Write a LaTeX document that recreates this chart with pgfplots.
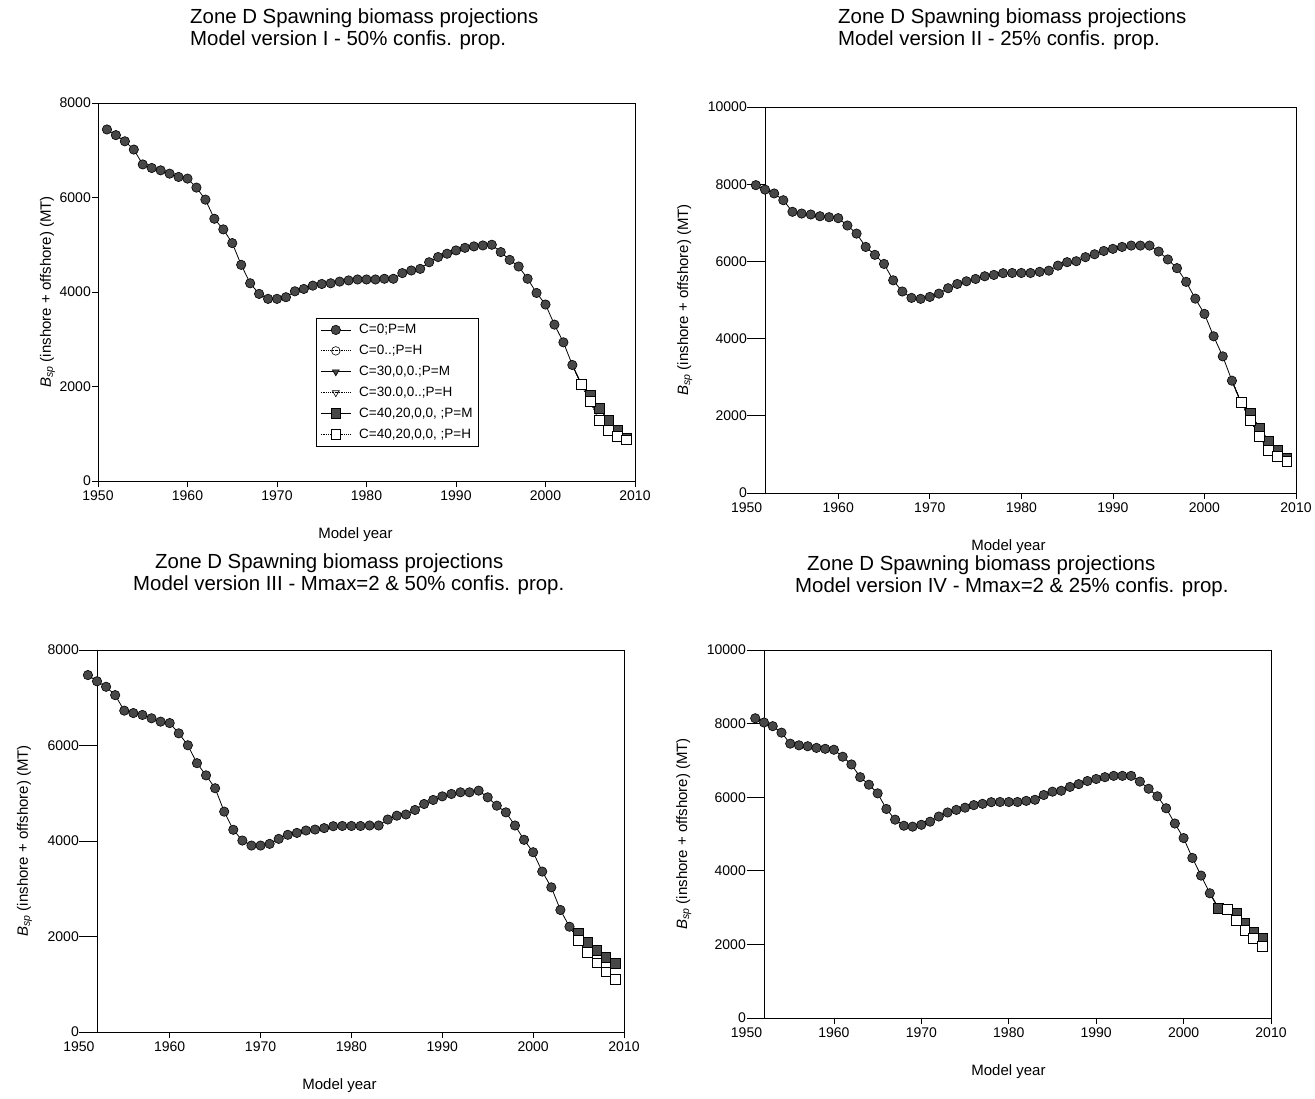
\documentclass[border=0pt]{standalone}
\usepackage{fontspec}
\setmainfont{Liberation Sans}
\usepackage{pgfplots}
\pgfplotsset{compat=1.18}
\usepackage{pgfplotstable}

% ---------------- Panel I ----------------
\pgfplotstableread{
year val
1951 7440
1952 7320
1953 7190
1954 7015
1955 6700
1956 6625
1957 6575
1958 6505
1959 6435
1960 6400
1961 6210
1962 5955
1963 5550
1964 5325
1965 5035
1966 4575
1967 4185
1968 3960
1969 3855
1970 3855
1971 3890
1972 4015
1973 4065
1974 4135
1975 4170
1976 4185
1977 4220
1978 4245
1979 4265
1980 4265
1981 4265
1982 4280
1983 4280
1984 4400
1985 4455
1986 4490
1987 4630
1988 4740
1989 4810
1990 4880
1991 4935
1992 4965
1993 4985
1994 5000
1995 4845
1996 4680
1997 4540
1998 4280
1999 3980
2000 3735
2001 3310
2002 2935
2003 2455
}\histA
\pgfplotstableread{
year val
2003 2455
2004 2046
2005 1820
2006 1540
2007 1290
2008 1080
2009 900
}\projAM
\pgfplotstableread{
year val
2003 2455
2004 2046
2005 1680
2006 1290
2007 1080
2008 950
2009 870
}\projAH

% ---------------- Panel II ----------------
\pgfplotstableread{
year val
1951 7975
1952 7860
1953 7760
1954 7585
1955 7285
1956 7240
1957 7215
1958 7170
1959 7145
1960 7120
1961 6930
1962 6720
1963 6375
1964 6170
1965 5935
1966 5510
1967 5220
1968 5055
1969 5030
1970 5080
1971 5165
1972 5305
1973 5415
1974 5485
1975 5545
1976 5615
1977 5650
1978 5695
1979 5700
1980 5700
1981 5700
1982 5730
1983 5760
1984 5890
1985 5980
1986 6005
1987 6110
1988 6185
1989 6270
1990 6325
1991 6375
1992 6410
1993 6410
1994 6410
1995 6255
1996 6050
1997 5825
1998 5470
1999 5035
2000 4640
2001 4060
2002 3540
2003 2910
}\histB
\pgfplotstableread{
year val
2003 2910
2004 2340
2005 2065
2006 1690
2007 1350
2008 1115
2009 900
}\projBM
\pgfplotstableread{
year val
2003 2910
2004 2340
2005 1890
2006 1460
2007 1115
2008 960
2009 830
}\projBH

% ---------------- Panel III ----------------
\pgfplotstableread{
year val
1951 7475
1952 7345
1953 7230
1954 7055
1955 6730
1956 6680
1957 6640
1958 6570
1959 6500
1960 6470
1961 6255
1962 6005
1963 5630
1964 5375
1965 5105
1966 4615
1967 4235
1968 4010
1969 3905
1970 3905
1971 3940
1972 4045
1973 4130
1974 4170
1975 4220
1976 4240
1977 4270
1978 4310
1979 4315
1980 4315
1981 4315
1982 4325
1983 4325
1984 4450
1985 4530
1986 4555
1987 4650
1988 4775
1989 4860
1990 4935
1991 4985
1992 5020
1993 5020
1994 5055
1995 4915
1996 4740
1997 4600
1998 4325
1999 4025
2000 3765
2001 3360
2002 3030
2003 2555
2004 2205
}\histC
\pgfplotstableread{
year val
2004 2205
2005 2070
2006 1880
2007 1710
2008 1570
2009 1438
}\projCM
\pgfplotstableread{
year val
2004 2205
2005 1925
2006 1670
2007 1450
2008 1260
2009 1110
}\projCH

% ---------------- Panel IV ----------------
\pgfplotstableread{
year val
1951 8145
1952 8030
1953 7930
1954 7755
1955 7455
1956 7410
1957 7385
1958 7340
1959 7315
1960 7290
1961 7100
1962 6890
1963 6545
1964 6340
1965 6105
1966 5680
1967 5390
1968 5225
1969 5200
1970 5250
1971 5335
1972 5475
1973 5585
1974 5655
1975 5715
1976 5785
1977 5820
1978 5865
1979 5870
1980 5870
1981 5870
1982 5900
1983 5930
1984 6060
1985 6150
1986 6175
1987 6280
1988 6355
1989 6440
1990 6495
1991 6545
1992 6580
1993 6580
1994 6580
1995 6425
1996 6230
1997 6025
1998 5700
1999 5285
2000 4890
2001 4350
2002 3870
2003 3390
}\histD
\pgfplotstableread{
year val
2003 3390
2004 2980
2005 2960
2006 2845
2007 2573
2008 2345
2009 2165
}\projDM
\pgfplotstableread{
year val
2003 3390
2004 2980
2005 2950
2006 2663
2007 2390
2008 2165
2009 1940
}\projDH

\def\tkf{\fontsize{14}{16}\selectfont}
\pgfplotsset{
  panel/.style={
    scale only axis,
    xmax=2010, ymin=0,
    scaled y ticks=false,
    tick align=outside, xtick pos=bottom, ytick pos=left,
    major tick length=6pt,
    axis line style={line width=0.9pt},
    every tick/.style={black, line width=0.8pt},
    /pgf/number format/1000 sep={},
    /pgf/number format/assume math mode=true,
    ticklabel style={font=\tkf},
    yticklabel style={inner xsep=1pt},
    label style={font=\fontsize{15}{17}\selectfont},
    xlabel={Model year},
    ylabel={\textit{B}\textsubscript{\textit{sp}} (inshore + offshore) (MT)},
    legend image code/.code={%
      \draw[##1, mark indices={2}] plot coordinates {(0pt,0pt) (15pt,0pt) (30pt,0pt)};
      \path (36pt,0pt);},
  },
  normal/.style={xmin=1950, xtick={1950,1960,...,2010}},
  offset/.style={xmin=1952, xtick={1960,1970,...,2010}, clip=false,
    yticklabel style={xshift=-11pt}, ylabel shift=11pt},
  sM/.style={black, line width=0.8pt, mark=*, mark size=4.7pt,
    mark options={solid, fill=black!72, draw=black, line width=0.6pt}},
  oH/.style={black, line width=0.8pt, densely dotted, mark=o, mark size=4.3pt,
    mark options={solid, fill=white, draw=black, line width=0.6pt}},
  tM/.style={black, line width=0.8pt, mark=triangle*, mark size=4pt,
    mark options={solid, rotate=180, fill=black!72, draw=black, line width=0.6pt}},
  tH/.style={black, line width=0.8pt, densely dotted, mark=triangle, mark size=4pt,
    mark options={solid, rotate=180, fill=white, draw=black, line width=0.6pt}},
  qM/.style={black, line width=0.8pt, mark=square*, mark size=4.9pt,
    mark options={solid, fill=black!72, draw=black, line width=0.6pt}},
  qH/.style={black, line width=0.8pt, densely dotted, mark=square*, mark size=4.9pt,
    mark options={solid, fill=white, draw=black, line width=0.6pt}},
}

\begin{document}
\begin{tikzpicture}
\useasboundingbox (0pt,0pt) rectangle (1315pt,-1099pt);

\def\tf{\fontsize{20.4}{22}\selectfont}
\node[anchor=west,font=\tf,inner sep=0pt] at (190pt,-18pt) {Zone D Spawning biomass projections};
\node[anchor=west,font=\tf,inner sep=0pt] at (190pt,-40pt) {Model version I - 50\% confis. prop.};
\node[anchor=west,font=\tf,inner sep=0pt] at (838pt,-18pt) {Zone D Spawning biomass projections};
\node[anchor=west,font=\tf,inner sep=0pt] at (838pt,-40pt) {Model version II - 25\% confis. prop.};
\node[anchor=west,font=\tf,inner sep=0pt] at (155pt,-563pt) {Zone D Spawning biomass projections};
\node[anchor=west,font=\tf,inner sep=0pt] at (133pt,-585pt) {Model version III - Mmax=2 \& 50\% confis. prop.};
\node[anchor=west,font=\tf,inner sep=0pt] at (807pt,-565pt) {Zone D Spawning biomass projections};
\node[anchor=west,font=\tf,inner sep=0pt] at (795pt,-587pt) {Model version IV - Mmax=2 \& 25\% confis. prop.};

% ---------- Panel I ----------
\begin{axis}[panel, normal, anchor=south west, at={(98pt,-481pt)}, width=537pt, height=378pt,
  ymax=8000, ytick={0,2000,...,8000},
  xlabel style={yshift=-20pt, xshift=-11pt},
  legend style={at={(0.406,0.431)}, anchor=north west, draw=black, line width=0.8pt,
    font=\fontsize{13.5}{15}\selectfont, row sep=6pt, inner sep=4pt,
    cells={anchor=west}}]
\addplot[sM] table[x=year,y=val]{\histA};
\addlegendentry{C=0;P=M}
\addplot[oH, mark indices={2,...,7}] table[x=year,y=val]{\projAH};
\addlegendentry{C=0..;P=H}
\addplot[tM, mark indices={2,...,7}] table[x=year,y=val]{\projAM};
\addlegendentry{C=30,0,0.;P=M}
\addplot[tH, mark indices={2,...,7}] table[x=year,y=val]{\projAH};
\addlegendentry{C=30.0,0..;P=H}
\addplot[qM, mark indices={2,...,7}] table[x=year,y=val]{\projAM};
\addlegendentry{C=40,20,0,0, ;P=M}
\addplot[qH, mark indices={2,...,7}] table[x=year,y=val]{\projAH};
\addlegendentry{C=40,20,0,0, ;P=H}
\end{axis}

% ---------- Panel II ----------
\begin{axis}[panel, offset, anchor=south west, at={(765pt,-493pt)}, width=531pt, height=386pt,
  ymax=10000, ytick={0,2000,...,10000},
  xlabel style={yshift=-20pt, xshift=-22pt}]
\pgfplotsinvokeforeach{0,2000,4000,6000,8000,10000}{\draw[line width=0.8pt] (axis cs:1950,#1) -- (axis cs:1952,#1);}
\node[anchor=north, font=\tkf, yshift=-6pt] at (axis cs:1950,0) {1950};
\addplot[sM] table[x=year,y=val]{\histB};
\addplot[oH, mark indices={2,...,7}] table[x=year,y=val]{\projBH};
\addplot[tM, mark indices={2,...,7}] table[x=year,y=val]{\projBM};
\addplot[tH, mark indices={2,...,7}] table[x=year,y=val]{\projBH};
\addplot[qM, mark indices={2,...,7}] table[x=year,y=val]{\projBM};
\addplot[qH, mark indices={2,...,7}] table[x=year,y=val]{\projBH};
\end{axis}

% ---------- Panel III ----------
\begin{axis}[panel, offset, anchor=south west, at={(97pt,-1032pt)}, width=527pt, height=382pt,
  ymax=8000, ytick={0,2000,...,8000},
  xlabel style={yshift=-20pt, xshift=-21pt}]
\pgfplotsinvokeforeach{0,2000,4000,6000,8000}{\draw[line width=0.8pt] (axis cs:1950,#1) -- (axis cs:1952,#1);}
\node[anchor=north, font=\tkf, yshift=-6pt] at (axis cs:1950,0) {1950};
\addplot[sM] table[x=year,y=val]{\histC};
\addplot[oH, mark indices={2,...,6}] table[x=year,y=val]{\projCH};
\addplot[tM, mark indices={2,...,6}] table[x=year,y=val]{\projCM};
\addplot[tH, mark indices={2,...,6}] table[x=year,y=val]{\projCH};
\addplot[qM, mark indices={2,...,6}] table[x=year,y=val]{\projCM};
\addplot[qH, mark indices={2,...,6}] table[x=year,y=val]{\projCH};
\end{axis}

% ---------- Panel IV ----------
\begin{axis}[panel, offset, anchor=south west, at={(764pt,-1018pt)}, width=507pt, height=368pt,
  ymax=10000, ytick={0,2000,...,10000},
  xlabel style={yshift=-20pt, xshift=-9pt}]
\pgfplotsinvokeforeach{0,2000,4000,6000,8000,10000}{\draw[line width=0.8pt] (axis cs:1950,#1) -- (axis cs:1952,#1);}
\node[anchor=north, font=\tkf, yshift=-6pt] at (axis cs:1950,0) {1950};
\addplot[sM] table[x=year,y=val]{\histD};
\addplot[oH, mark indices={3,...,7}] table[x=year,y=val]{\projDH};
\addplot[tM, mark indices={2,...,7}] table[x=year,y=val]{\projDM};
\addplot[tH, mark indices={3,...,7}] table[x=year,y=val]{\projDH};
\addplot[qM, mark indices={2,...,7}] table[x=year,y=val]{\projDM};
\addplot[qH, mark indices={3,...,7}] table[x=year,y=val]{\projDH};
\end{axis}
\end{tikzpicture}
\end{document}
